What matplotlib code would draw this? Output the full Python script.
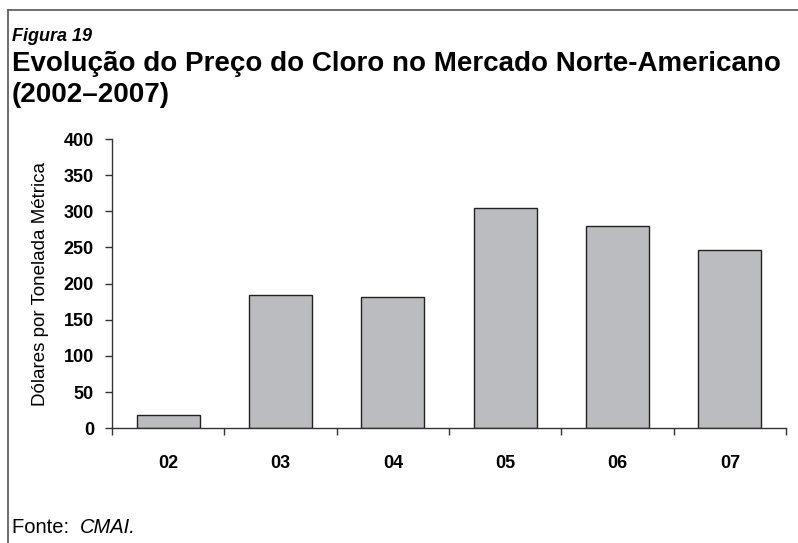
import matplotlib.pyplot as plt
from matplotlib.lines import Line2D

anos = ["02", "03", "04", "05", "06", "07"]
precos = [19, 185, 181, 305, 280, 246]
yticks = [0, 50, 100, 150, 200, 250, 300, 350, 400]

plt.rcParams['font.family'] = ['Liberation Sans', 'DejaVu Sans']

fig = plt.figure(figsize=(7.98, 5.43), dpi=100)
ax = fig.add_axes([0.1404, 0.2112, 0.8446, 0.5328])

x = list(range(len(anos)))
ax.bar(x, precos, width=0.56, color='#bbbcc0', edgecolor='#222222', linewidth=1.0)

ax.set_xlim(-0.5, len(anos) - 0.5)
ax.set_ylim(0, 400)
ax.set_yticks(yticks)
ax.set_yticklabels([str(v) for v in yticks], fontsize=13, fontweight='bold')
ax.set_xticks([i + 0.5 for i in range(-1, len(anos))])
ax.set_xticklabels([])
for i, a in enumerate(anos):
    ax.text(i, -0.12, a, transform=ax.get_xaxis_transform(), ha='center', va='center',
            fontsize=13, fontweight='bold')

for s in ['top', 'right']:
    ax.spines[s].set_visible(False)
for s in ['left', 'bottom']:
    ax.spines[s].set_color('#333333')
    ax.spines[s].set_linewidth(1.0)
ax.tick_params(axis='both', direction='out', length=5, width=1, color='#333333')
ax.tick_params(axis='y', pad=8)

ax.set_ylabel('Dólares por Tonelada Métrica', fontsize=13.5)
ax.yaxis.set_label_coords(-0.093, 0.5)

fig.text(0.015, 0.932, 'Figura 19', fontsize=13, fontweight='bold', style='italic', va='center')
fig.text(0.015, 0.882, 'Evolução do Preço do Cloro no Mercado Norte-Americano',
         fontsize=20, fontweight='bold', va='center')
fig.text(0.015, 0.825, '(2002–2007)', fontsize=20, fontweight='bold', va='center')

t = fig.text(0.015, 0.029, 'Fonte:  ', fontsize=14.5, va='center')
fig.canvas.draw()
bb = t.get_window_extent().transformed(fig.transFigure.inverted())
fig.text(bb.x1, 0.029, 'CMAI.', fontsize=14.5, style='italic', va='center')

fig.add_artist(Line2D([0.010, 1.0], [0.982, 0.982], transform=fig.transFigure, color='#555555', lw=1.2))
fig.add_artist(Line2D([0.010, 0.010], [0.0, 0.982], transform=fig.transFigure, color='#555555', lw=1.2))

fig.savefig('out.png', dpi=100)
